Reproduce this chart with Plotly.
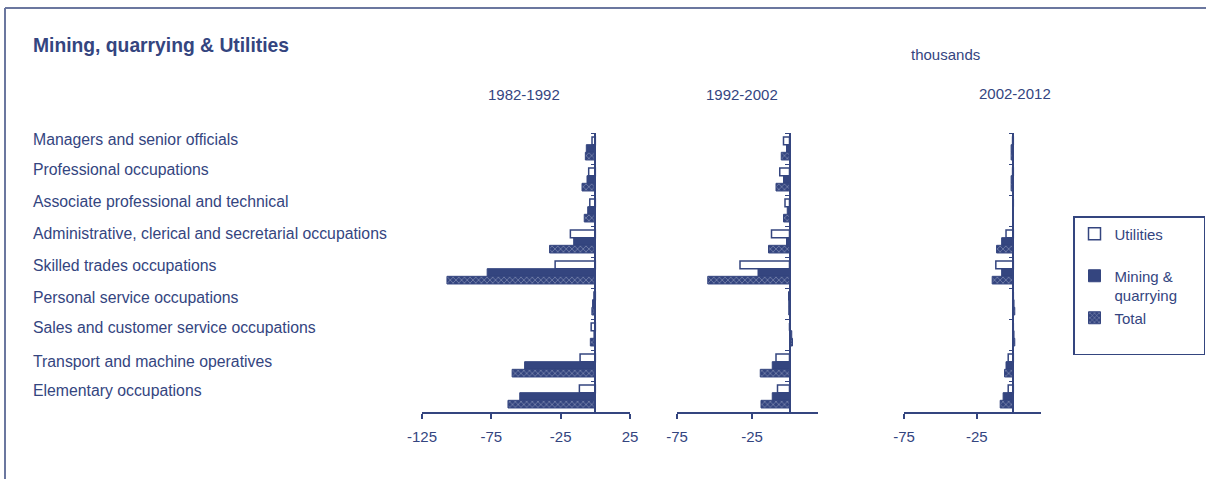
import plotly.graph_objects as go

categories = [
    "Managers and senior officials",
    "Professional occupations",
    "Associate professional and technical",
    "Administrative, clerical and secretarial occupations",
    "Skilled trades occupations",
    "Personal service occupations",
    "Sales and customer service occupations",
    "Transport and machine operatives",
    "Elementary occupations",
]
periods = ["1982-1992", "1992-2002", "2002-2012"]

utilities_8292 = [-2.4, -4.8, -4, -18, -29, -1, -3, -11, -11.5]
mining_8292 = [-6.5, -6, -5.5, -15.6, -78, -2, -1, -51, -54.5]
total_8292 = [-7.2, -9.6, -8, -33, -107, -2.5, -3.6, -60, -63]

utilities_9202 = [-4, -6.5, -3, -12, -33, -0.5, 0, -9, -8]
mining_9202 = [-2, -4, -1.5, -2, -21, -0.5, 1.5, -11.5, -11.5]
total_9202 = [-5.5, -9, -4, -14, -54.5, -0.5, 2, -19.5, -19]

utilities_0212 = [-0.5, -0.5, 0, -5, -12, 0, 0, -3.5, -3.5]
mining_0212 = [-1.5, -1.5, -0.3, -8, -8, 0.5, 0.5, -5, -7]
total_0212 = [-1.5, -1.5, -0.3, -11.5, -14.5, 1, 1, -6, -9]

tick_values = [-125, -75, -25, 25]
tick_labels = ["-125", "-75", "-25", "25"]

NB = "\u00a0"
series_names = ["Utilities<br> ", "Mining &<br>quarrying" + NB * 5, "Total<br> "]
panel_data = [
    (utilities_8292, mining_8292, total_8292),
    (utilities_9202, mining_9202, total_9202),
    (utilities_0212, mining_0212, total_0212),
]
x_ranges = [[-125, 25], [-75, 19], [-75, 19]]

W, H = 1206, 479
NAVY = "#34457f"
FONT = "Liberation Sans, Arial, sans-serif"

px_domains = [(422, 630), (677, 818), (904, 1041)]
y_dom = [1 - 412 / H, 1 - 133 / H]
# layout: pixel row of each category label (left-aligned text column)
label_rows_px = [139, 169, 202, 233, 265, 297, 327, 361, 390]

fig = go.Figure()

styles = [
    dict(color="white", line=dict(color=NAVY, width=1.5)),
    dict(color=NAVY, line=dict(color=NAVY, width=1)),
    dict(color=NAVY, line=dict(color=NAVY, width=1),
         pattern=dict(shape="x", fgcolor="#d6dbea", bgcolor=NAVY, size=4, solidity=0.3)),
]

for p, (vals, rng, (x0, x1)) in enumerate(zip(panel_data, x_ranges, px_domains)):
    xa = "x" if p == 0 else f"x{p+1}"
    ya = "y" if p == 0 else f"y{p+1}"
    for s in range(3):
        fig.add_trace(go.Bar(
            x=vals[s], y=categories, orientation="h",
            name=series_names[s], marker=styles[s],
            xaxis=xa, yaxis=ya, showlegend=(p == 0),
            legendgroup=str(s), hoverinfo="skip",
        ))
    d0, d1 = x0 / W, x1 / W
    zero_pos = d0 + (0 - rng[0]) / (rng[1] - rng[0]) * (d1 - d0)
    key = "" if p == 0 else str(p + 1)
    fig.layout["xaxis" + key] = dict(
        domain=[d0, d1], range=rng, anchor=ya,
        showline=True, linecolor=NAVY, linewidth=1.5,
        ticks="outside", tickcolor=NAVY, ticklen=5, tickwidth=1.5,
        tickmode="array", tickvals=tick_values, ticktext=tick_labels,
        showgrid=False, zeroline=False,
        tickfont=dict(family=FONT, size=15, color=NAVY),
        ticklabelstandoff=5, fixedrange=True, automargin=False,
    )
    fig.layout["yaxis" + key] = dict(
        domain=y_dom, type="category", categoryarray=categories,
        autorange="reversed", anchor="free", position=zero_pos,
        showline=True, linecolor=NAVY, linewidth=1.5,
        ticks="outside", tickson="boundaries", ticklen=4, tickcolor=NAVY,
        showticklabels=False, showgrid=False, zeroline=False, fixedrange=True,
        automargin=False,
    )

annotations = []
for c, row in zip(categories, label_rows_px):
    annotations.append(dict(
        text=c, x=31 / W, xref="paper", y=1 - row / H, yref="paper",
        xanchor="left", yanchor="middle", showarrow=False,
        font=dict(family=FONT, size=15.8, color=NAVY),
    ))
title_pos = [(524, 95), (742, 95), (1015, 93)]
for t, (tx, ty) in zip(periods, title_pos):
    annotations.append(dict(
        text=t, x=tx / W, y=1 - ty / H, xref="paper", yref="paper",
        xanchor="center", yanchor="middle", showarrow=False,
        font=dict(family=FONT, size=15, color=NAVY),
    ))
annotations.append(dict(
    text="thousands", x=945 / W, y=1 - 55 / H, xref="paper", yref="paper",
    xanchor="center", yanchor="middle", showarrow=False,
    font=dict(family=FONT, size=15, color=NAVY),
))
annotations.append(dict(
    text="<b>Mining, quarrying & Utilities</b>", x=31 / W, y=1 - 45 / H,
    xref="paper", yref="paper", xanchor="left", yanchor="middle", showarrow=False,
    font=dict(family=FONT, size=19.3, color=NAVY),
))

shapes = [
    dict(type="line", xref="paper", yref="paper", x0=5 / W, x1=1, y0=1 - 8 / H, y1=1 - 8 / H,
         line=dict(color="#6b779f", width=2)),
    dict(type="line", xref="paper", yref="paper", x0=5 / W, x1=5 / W, y0=0, y1=1 - 8 / H,
         line=dict(color="#6b779f", width=2)),
]

fig.update_layout(
    width=W, height=H, margin=dict(l=0, r=0, t=0, b=0, pad=0, autoexpand=False),
    paper_bgcolor="white", plot_bgcolor="white",
    barmode="group", bargap=0.26, bargroupgap=0,
    annotations=annotations, shapes=shapes,
    legend=dict(
        x=1073 / W, y=1 - 216 / H, xanchor="left", yanchor="top",
        bordercolor=NAVY, borderwidth=1.5, bgcolor="white",
        font=dict(family=FONT, size=15, color=NAVY),
        valign="top", traceorder="normal",
        itemclick=False, itemdoubleclick=False,
    ),
    showlegend=True,
)

fig.write_html(
    "out.html",
    config={"displayModeBar": False},
    post_script="document.body.style.margin='0';document.body.style.overflow='hidden';",
)
